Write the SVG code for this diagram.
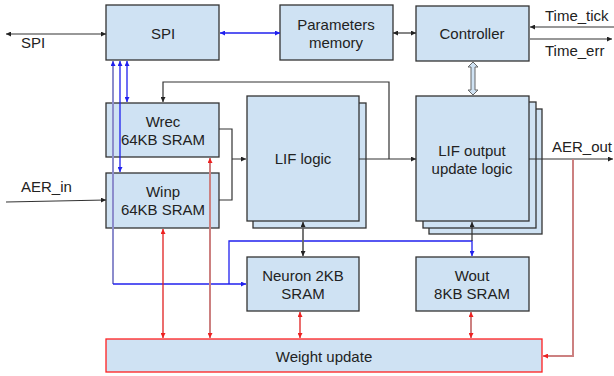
<svg xmlns="http://www.w3.org/2000/svg" width="614" height="376" viewBox="0 0 614 376">
<style>
.box{fill:#cfe2f3;stroke:#333;stroke-width:1.3}
.red{fill:#cfe2f3;stroke:#ff2020;stroke-width:1.3}
text{font-family:"Liberation Sans",Arial,sans-serif;font-size:15px;fill:#222;text-anchor:middle}
.lbl{text-anchor:start}
.k{fill:none;stroke:#333;stroke-width:1.2}
.g{fill:none;stroke:#666;stroke-width:1.8}
.b{fill:none;stroke:#2020ee;stroke-width:1.3}
.lb{fill:none;stroke:#8c8ccc;stroke-width:2}
.r{fill:none;stroke:#e02020;stroke-width:1.3}
.pr{fill:none;stroke:#cc8080;stroke-width:2}
</style>
<defs>
<marker id="ak" viewBox="0 0 6 6" refX="6" refY="3" markerWidth="5" markerHeight="5" markerUnits="userSpaceOnUse" orient="auto-start-reverse"><path d="M0,0L6,3L0,6z" fill="#222"/></marker>
<marker id="ab" viewBox="0 0 6 6" refX="6" refY="3" markerWidth="5" markerHeight="5" markerUnits="userSpaceOnUse" orient="auto-start-reverse"><path d="M0,0L6,3L0,6z" fill="#2020ee"/></marker>
<marker id="ar" viewBox="0 0 6 6" refX="6" refY="3" markerWidth="5" markerHeight="5" markerUnits="userSpaceOnUse" orient="auto-start-reverse"><path d="M0,0L6,3L0,6z" fill="#ee2020"/></marker>
</defs>
<g id="spi"><rect class="box" x="106" y="5" width="113" height="55"/><text x="163" y="39">SPI</text></g>
<g id="params"><rect class="box" x="280" y="5" width="113" height="55"/><text x="336" y="30">Parameters</text><text x="336" y="48">memory</text></g>
<g id="controller"><rect class="box" x="416" y="6" width="113" height="55"/><text x="472" y="39">Controller</text></g>
<g id="wrec"><rect class="box" x="106" y="103" width="113" height="54"/><text x="163" y="127">Wrec</text><text x="163" y="145">64KB SRAM</text></g>
<g id="winp"><rect class="box" x="106" y="173" width="113" height="55"/><text x="163" y="197">Winp</text><text x="163" y="215">64KB SRAM</text></g>
<g id="lif"><rect class="box" x="253" y="103" width="113" height="125"/><rect class="box" x="247" y="96" width="112" height="125"/><text x="303" y="164">LIF logic</text></g>
<g id="lifout"><rect class="box" x="429" y="109" width="113" height="125"/><rect class="box" x="423" y="102" width="113" height="126"/><rect class="box" x="416" y="96" width="113" height="125"/><text x="472" y="156">LIF output</text><text x="472" y="174">update logic</text></g>
<g id="neuron"><rect class="box" x="247" y="257" width="112" height="54"/><text x="303" y="281">Neuron 2KB</text><text x="303" y="299">SRAM</text></g>
<g id="wout"><rect class="box" x="416" y="257" width="113" height="54"/><text x="472" y="281">Wout</text><text x="472" y="299">8KB SRAM</text></g>
<g id="weight"><rect class="red" x="106" y="339" width="436" height="33"/><text x="324" y="362">Weight update</text></g>
<g id="labels">
<text class="lbl" x="21" y="48">SPI</text>
<text class="lbl" x="545" y="21">Time_tick</text>
<text class="lbl" x="545" y="56">Time_err</text>
<text class="lbl" x="21" y="192">AER_in</text>
<text class="lbl" x="552" y="152">AER_out</text>
</g>
<g id="connectors">
<path class="k" d="M6,34H106" marker-start="url(#ak)" marker-end="url(#ak)"/>
<path class="b" d="M220,33H280" marker-start="url(#ab)" marker-end="url(#ab)"/>
<path class="k" d="M393,33H416" marker-start="url(#ak)" marker-end="url(#ak)"/>
<path class="k" d="M614,27H530" marker-end="url(#ak)"/>
<path class="k" d="M530,39H612" marker-end="url(#ak)"/>
<path d="M473,62L478,67H475V90H478L473,95L468,90H471V67H468Z" fill="#cfe2f3" stroke="#666" stroke-width="1"/>
<path class="k" d="M389,159V82H163V102" marker-end="url(#ak)"/>
<path class="k" d="M359,159H416" marker-end="url(#ak)"/>
<path class="k" d="M529,159H613" marker-end="url(#ak)"/>
<path class="pr" d="M573,159V356H543" marker-end="url(#ar)"/>
<path class="k" d="M219,129H232V200H219M232,159H246" marker-end="url(#ak)"/>
<path class="k" d="M6,202L106,200" marker-end="url(#ak)"/>
<path class="lb" d="M113,284V61" marker-end="url(#ab)"/>
<path class="b" d="M113,284H246" marker-end="url(#ab)"/>
<path class="b" d="M229,284V241H472V256" marker-end="url(#ab)"/>
<path class="b" d="M120,172V61" marker-start="url(#ab)" marker-end="url(#ab)"/>
<path class="b" d="M127,102V61" marker-start="url(#ab)" marker-end="url(#ab)"/>
<path class="g" d="M303,222V256" marker-start="url(#ak)" marker-end="url(#ak)"/>
<path class="k" d="M472,241V222" marker-end="url(#ak)"/>
<path class="r" d="M163,229V338" marker-start="url(#ar)" marker-end="url(#ar)"/>
<path class="pr" d="M210,158V338" marker-start="url(#ar)" marker-end="url(#ar)"/>
<path class="r" d="M300,312V338" marker-start="url(#ar)" marker-end="url(#ar)"/>
<path class="pr" d="M471,312V338" marker-start="url(#ar)" marker-end="url(#ar)"/>
</g>
</svg>
